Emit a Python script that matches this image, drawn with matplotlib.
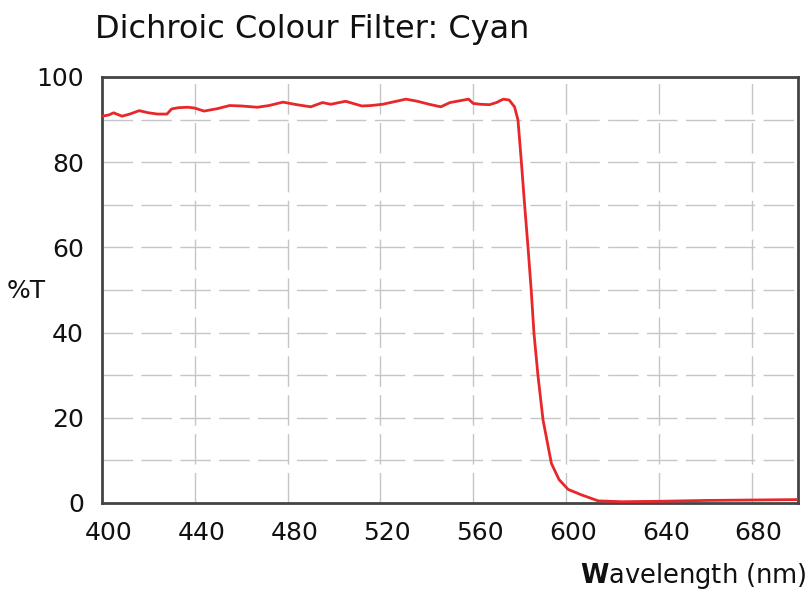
import numpy as np
import matplotlib.pyplot as plt
from matplotlib.transforms import ScaledTranslation

plt.rcParams['font.family'] = ['DejaVu Sans']

# transmission curve (nm, %T)
wavelength = [400, 403, 405, 408.6, 412, 416, 420, 424, 428, 430, 433, 437, 440,
              444, 450, 455, 460, 467, 472, 478, 484, 490, 495, 498.6, 505, 512,
              516, 521, 526, 531, 536, 541, 546, 550, 554, 558, 560, 563, 567,
              570, 573, 575.5, 577.8, 579.3, 580.7, 582.1, 583.6, 585, 586.2,
              587.9, 590.1, 593.7, 597, 600.9, 606.7, 613.9, 624, 640, 660, 680, 700]
transmission = [90.8, 91.1, 91.6, 90.8, 91.3, 92.1, 91.6, 91.3, 91.3, 92.5, 92.8, 92.9, 92.7,
                92.0, 92.6, 93.3, 93.2, 92.9, 93.3, 94.1, 93.5, 93.0, 94.0, 93.6, 94.3, 93.2,
                93.3, 93.6, 94.2, 94.8, 94.3, 93.6, 93.0, 94.0, 94.4, 94.8, 93.8, 93.6, 93.5,
                94.0, 94.8, 94.6, 93.0, 89.9, 80.5, 70.4, 60.2, 50.0, 39.8,
                30.0, 19.5, 9.3, 5.5, 3.2, 1.9, 0.5, 0.3, 0.4, 0.6, 0.7, 0.8]

x_ticks = [400, 440, 480, 520, 560, 600, 640, 680]
y_ticks = [0, 20, 40, 60, 80, 100]

fig = plt.figure(figsize=(8.11, 5.92), dpi=100)
ax = fig.add_axes([102 / 811, 1 - 503 / 592, 696 / 811, 426 / 592])

grid_color = '#c6c6c6'
for gx in range(440, 700, 40):
    ax.axvline(gx, color=grid_color, lw=1, dashes=(22, 6), zorder=1)
for gy in range(10, 100, 10):
    ax.axhline(gy, color=grid_color, lw=1, dashes=(22, 6), zorder=1)

ax.plot(wavelength, transmission, color='#e8272a', lw=2, zorder=3)

ax.set_xlim(400, 700)
ax.set_ylim(0, 100)
ax.set_xticks(x_ticks)
ax.set_yticks(y_ticks)
ax.tick_params(length=0, labelsize=18, pad=13, colors='#111111')
shift = ScaledTranslation(7 / 100, 0, fig.dpi_scale_trans)
for lab in ax.get_xticklabels():
    lab.set_transform(lab.get_transform() + shift)
for s in ax.spines.values():
    s.set_color('#444444')
    s.set_linewidth(2)

fig.text(95 / 811, 1 - 38 / 592, 'Dichroic Colour Filter: Cyan', fontsize=23,
         va='baseline', ha='left', color='#111111')
fig.text(7 / 811, 1 - 298 / 592, '%T', fontsize=18, va='baseline', ha='left', color='#111111')
fig.text(807 / 811, 1 - 583 / 592, r'$\mathbf{W}$avelength (nm)', fontsize=18.5,
         va='baseline', ha='right', color='#111111')

fig.savefig('out.png', dpi=100)
